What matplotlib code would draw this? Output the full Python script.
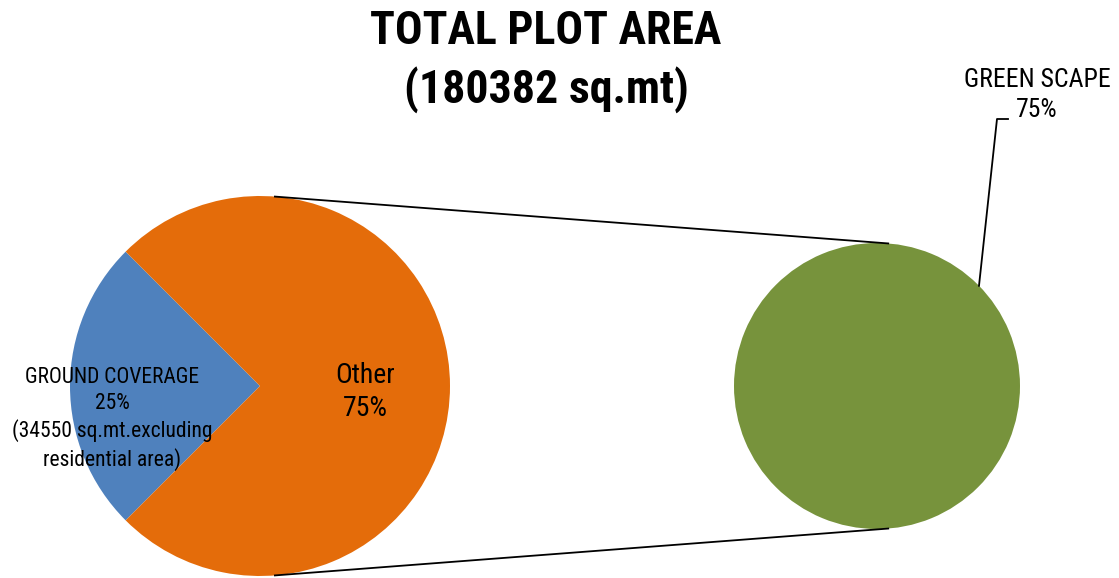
import numpy as np
import matplotlib.pyplot as plt

# Data
main_labels = ['GROUND COVERAGE', 'Other']
main_values = [25, 75]
main_notes = ['(34550 sq.mt.excluding\nresidential area)', '']
sub_labels = ['GREEN SCAPE']
sub_values = [75]
title = 'TOTAL PLOT AREA\n(180382 sq.mt)'

colors_main = ['#4F81BD', '#E46C0A']
colors_sub = ['#77933C']

plt.rcParams['font.family'] = ['Roboto Condensed', 'DejaVu Sans']

W, H = 1119, 578
fig = plt.figure(figsize=(W / 100, H / 100), dpi=100)
ax = fig.add_axes([0, 0, 1, 1])

# Geometry (pixel space, y up)
c1, r1 = (260, H - 386), 190
c2, r2 = (877, H - 386), 143

# main pie, grouped slice centred on the left
ax.pie(main_values, colors=colors_main, startangle=135, counterclock=True,
       center=c1, radius=r1, frame=True, wedgeprops=dict(linewidth=0))
ax.pie([1], colors=colors_sub, center=c2, radius=r2, frame=True,
       wedgeprops=dict(linewidth=0))
ax.set_xlim(0, W)
ax.set_ylim(0, H)
ax.set_aspect('equal')
ax.axis('off')

# connector lines between the pies
a = np.deg2rad(4.5)
for s in (1, -1):
    x0, y0 = c1[0] + r1 * np.sin(a), c1[1] + s * r1 * np.cos(a)
    x1, y1 = c2[0] + r2 * np.sin(a), c2[1] + s * r2 * np.cos(a)
    ax.plot([x0, x1], [y0, y1], color='black', lw=1.3)

# labels
pct = [v / sum(main_values) * 100 for v in main_values]
ax.text(112, H - 419, f'{main_labels[0]}\n{pct[0]:.0f}%\n{main_notes[0]}',
        ha='center', va='center', fontsize=15.5, linespacing=1.3)
ax.text(365, H - 392, f'{main_labels[1]}\n{pct[1]:.0f}%',
        ha='center', va='center', fontsize=20, linespacing=1.25)

# green scape label with leader
ang = np.deg2rad(44.5)
px, py = c2[0] + r2 * np.cos(ang), c2[1] + r2 * np.sin(ang)
ax.plot([px, 997, 1008], [py, H - 119, H - 119], color='black', lw=1.3)
ax.text(1037, H - 95, f'{sub_labels[0]}\n{sub_values[0]}%',
        ha='center', va='center', fontsize=18.5, linespacing=1.3)

fig.text(546 / W, 1 - 61 / H, title, ha='center', va='center',
         fontsize=33, fontweight='bold', linespacing=1.35)

fig.savefig('out.png', dpi=100)
